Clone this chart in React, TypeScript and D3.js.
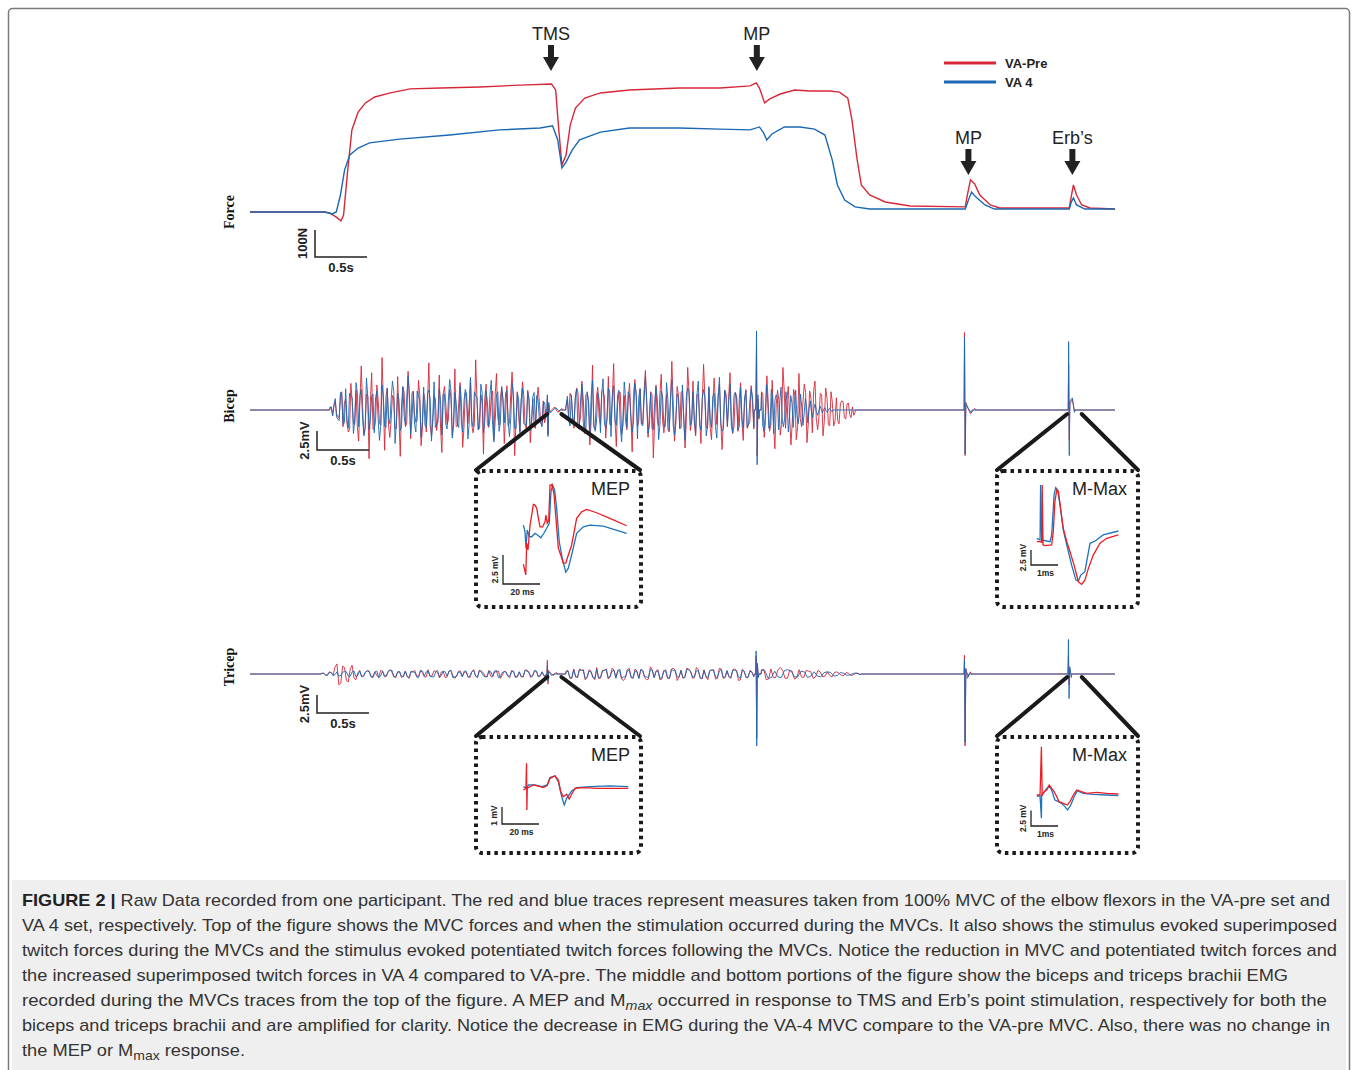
import React from "react";
import * as d3 from "d3";

const RED = "#d62839";
const BLUE = "#1a68b3";
const IRED = "#ee1c25";
const IBLUE = "#1c75bc";
const FONT = "'Liberation Sans', Arial, Helvetica, sans-serif";

// ---------- Force (time s, force N) ----------
const forceRed: [number, number][] = [
  [0, 0], [0.72, 0], [0.77, -4], [0.83, -19], [0.875, -33], [0.9, -11], [0.94, 156], [0.98, 304],
  [1.04, 370], [1.11, 404], [1.2, 426], [1.35, 441], [1.54, 456], [1.83, 459], [2.21, 463], [2.6, 470],
  [2.9, 474], [2.94, 452], [2.97, 304], [3.0, 174], [3.04, 211], [3.08, 322], [3.13, 385], [3.22, 422],
  [3.37, 441], [3.65, 452], [4.13, 459], [4.52, 459], [4.81, 467], [4.87, 478], [4.9, 459], [4.95, 404],
  [5.0, 419], [5.1, 437], [5.24, 452], [5.38, 448], [5.58, 448], [5.67, 444], [5.75, 422], [5.79, 341],
  [5.84, 193], [5.88, 100], [5.96, 63], [6.11, 37], [6.35, 22], [6.88, 19], [6.9, 63], [6.93, 119],
  [6.97, 104], [7.02, 63], [7.12, 26], [7.21, 15], [7.88, 15], [7.9, 59], [7.92, 100], [7.95, 63],
  [8.0, 26], [8.08, 15], [8.32, 11],
];
const forceBlue: [number, number][] = [
  [0, 0], [0.72, 0], [0.79, -7], [0.83, 0], [0.87, 63], [0.91, 156], [0.96, 211], [1.04, 237],
  [1.15, 256], [1.44, 270], [1.92, 285], [2.4, 304], [2.79, 311], [2.91, 319], [2.96, 267], [3.0, 163],
  [3.04, 185], [3.1, 230], [3.17, 267], [3.37, 296], [3.65, 311], [4.13, 311], [4.52, 307], [4.81, 304],
  [4.9, 315], [4.94, 293], [4.97, 267], [5.02, 289], [5.14, 315], [5.29, 315], [5.43, 307], [5.53, 285],
  [5.6, 193], [5.65, 100], [5.72, 44], [5.82, 19], [5.96, 11], [6.88, 11], [6.91, 44], [6.94, 74],
  [6.98, 56], [7.07, 26], [7.16, 11], [7.88, 11], [7.9, 37], [7.92, 52], [7.95, 26], [8.03, 11], [8.32, 11],
];

// ---------- Bicep EMG (mV), sampled across burst windows ----------
const bicepRedBurst1 = [0.3,-0.6,1.1,-0.9,1.8,-2.2,1.4,-2.9,3.5,-1.8,2.6,-4.1,5.8,-3.2,2.1,-6.4,4.9,-2.5,3.3,-1.7,6.9,-5.3,2.8,-3.6,1.9,-2.4,4.4,-6.1,3.0,-2.2,5.1,-3.8,2.5,-1.6,3.9,-4.7,2.2,-2.9,6.2,-3.4,1.8,-2.7,4.6,-5.6,3.1,-1.9,2.7,-3.3,5.4,-2.1,3.6,-4.9,2.3,-1.8,4.1,-3.0,6.6,-2.6,2.0,-5.8,3.4,-2.3,1.7,-3.9,4.8,-2.0,2.9,-4.4,3.2,-1.6,5.0,-6.0,2.4,-2.8,3.7,-1.9,2.6,-4.3,1.5,-2.4,3.0,-1.7,1.2,-0.8];
const bicepBlueBurst1 = [0.4,-0.8,1.5,-1.2,2.3,-1.9,2.8,-2.4,1.9,-3.1,3.6,-2.2,2.7,-3.4,4.2,-2.6,1.8,-3.0,2.5,-4.0,3.3,-2.1,2.9,-1.8,3.8,-4.4,2.2,-2.7,3.1,-2.0,4.5,-3.2,2.4,-2.9,1.9,-3.6,3.0,-2.3,2.6,-4.1,3.7,-1.9,2.8,-3.3,2.1,-2.5,4.0,-3.7,2.3,-1.8,3.2,-2.9,2.7,-3.8,4.3,-2.2,1.9,-2.6,3.4,-3.0,2.5,-2.1,3.9,-4.2,2.0,-2.8,3.1,-1.7,2.6,-3.5,3.5,-2.4,2.2,-3.0,2.9,-1.9,2.4,-2.7,1.8,-2.2,1.3,-1.6,0.9,-0.6];
const bicepRedBurst2 = [0.5,-1.0,1.8,-2.4,2.9,-1.7,3.8,-3.1,2.2,-4.6,5.9,-2.5,3.0,-1.9,2.6,-3.7,4.4,-2.0,6.1,-4.8,2.3,-3.2,1.9,-2.6,3.5,-5.5,4.0,-2.2,2.8,-1.8,5.2,-3.6,2.4,-6.3,3.3,-2.1,4.7,-3.0,2.0,-2.9,6.4,-4.1,3.1,-2.4,2.5,-5.0,5.6,-2.7,3.8,-3.4,2.1,-4.4,6.0,-2.3,2.9,-3.9,4.2,-1.9,3.4,-5.2,2.6,-2.2,4.9,-3.1,2.3,-2.8,3.6,-4.0,2.7,-1.9,3.2,-2.5];
const bicepBlueBurst2 = [0.6,-1.3,2.0,-1.8,2.7,-2.5,3.4,-2.2,2.4,-3.6,3.9,-2.8,2.3,-3.0,4.1,-2.4,2.9,-3.5,3.2,-2.0,2.6,-4.2,3.7,-2.3,2.0,-2.9,3.5,-3.8,2.8,-2.1,4.4,-3.1,2.2,-2.6,3.0,-3.9,2.5,-2.2,3.6,-2.7,4.0,-3.3,2.1,-2.5,3.3,-4.0,2.9,-2.0,2.4,-3.2,3.8,-2.6,2.7,-3.4,3.1,-2.3,2.2,-3.7,4.3,-2.8,2.6,-2.1,3.4,-3.0,2.3,-2.6,3.0,-2.4,2.5,-1.9,2.8,-2.2];
const bicepRedBurst3 = [2.4,-3.6,4.5,-2.8,3.9,-5.1,2.6,-3.3,5.6,-2.4,3.1,-4.6,2.7,-3.9,4.8,-2.2,3.4,-4.3,2.5,-3.0,3.8,-2.6,2.2,-3.4,2.9,-1.9,2.4,-2.1,1.6,-1.8,1.2,-1.0,0.8,-0.6,0.4,-0.3];
const bicepBlueBurst3 = [2.2,-2.8,3.3,-2.4,2.7,-3.1,2.0,-2.6,3.0,-2.2,2.4,-2.9,1.9,-2.3,2.6,-1.8,2.1,-2.0,1.5,-1.7,1.2,-1.0,0.8,-0.7,0.5,-0.4,0.3,-0.3,0.2,-0.2];
// in-between samples (dense core of the signal)
const bicepRedCore = [
  0.3,0.6,-0.5,-1.0,2.4,0.9,-1.7,-2.6,1.1,-1.9,-2.2,1.3,0.7,-2.3,1.8,1.0,-2.5,-1.5,1.3,-2.0,
  0.9,1.8,-2.1,-1.2,1.6,-2.4,-1.0,0.8,2.3,-1.7,1.4,2.2,-0.6,-1.4,1.9,-2.5,1.2,1.1,-2.0,-1.6,
  1.5,-0.9,-2.4,2.1,0.8,-1.3,1.7,-1.9,-2.2,1.0,1.1,-2.3,1.6,0.7,-2.0,-1.8,1.3,-2.4,0.9,1.5,
  -1.8,-1.2,2.5,2.0,-1.0,1.6,1.4,-0.8,-2.1,2.2,1.2,-1.7,-0.7,1.1,1.9,-2.5,1.5,-1.4,-2.3,0.9,
  1.1,-2.0,-1.7,1.3,2.2,-0.8,1.5,2.4,-0.9,-1.6,2.0,1.1,-1.3,-2.2,1.8,-0.9,2.4,1.7,-1.0,-1.9,
  1.6,-1.2,0.8,2.3,-2.1,-1.5,1.2,-0.7,1.9,2.1,-1.4,-1.8,2.5,1.0,-0.7,2.0,-1.6,-1.3,2.2,-1.4,
  -0.9,-2.5,1.3,1.1,-1.8,1.9,2.3,-0.8,-1.0,2.2,-1.5,-1.6,2.0,-1.2,1.1,1.7,-2.4,-2.3,0.8,1.0,
  2.0,-1.4,-1.2,2.1,1.7,-0.9,-2.2,1.8,1.4,-1.5,0.9,-2.4,-1.6,1.1,2.1,-1.3,1.0,-2.0,-1.8,0.7,
  1.3,-1.9,2.5,1.2,-0.8,-1.6,1.9,-2.2,-1.1,1.0,2.3,-1.7,1.5,2.5,-1.2,-0.9,2.0,-1.4,1.6,-2.1,
  1.0,-1.5,-1.4,0.8,1.1,-1.2,0.9,-1.0,-0.7,0.8,0.6,-0.5,
];
const bicepBlueCore = [
  0.4,0.7,-0.9,-1.4,2.0,-1.7,-1.3,2.2,1.6,-1.1,2.3,1.9,-1.0,-2.4,1.8,-1.3,2.1,1.6,-1.2,-2.0,
  1.7,-2.3,-1.1,1.5,2.4,-1.8,1.4,-2.1,-0.9,1.7,2.2,-1.2,-1.9,2.5,1.3,-1.4,-2.0,2.2,1.5,-1.0,
  -2.3,-1.6,1.2,2.0,-1.8,1.3,2.5,-1.9,1.0,-2.3,-1.6,1.1,2.1,-1.8,-1.4,2.4,1.7,-1.2,2.2,-1.5,
  1.1,2.1,-1.9,-1.4,2.4,-1.7,1.3,2.2,-1.6,-1.0,2.0,-2.5,1.5,1.3,-1.8,-2.0,1.2,-1.6,2.3,1.9,
  -1.4,-2.2,1.0,1.8,-2.1,-1.2,1.7,-2.4,1.3,1.5,-2.5,1.1,1.9,-2.0,-1.6,1.4,2.2,-1.7,-1.1,2.3,
  1.8,-1.3,2.0,-2.1,-1.2,1.6,2.4,-1.0,-1.5,2.2,1.7,-1.9,1.3,1.2,-2.1,-2.4,1.0,1.5,-1.9,1.8,
  -2.2,1.4,1.6,-2.0,-1.1,1.7,-2.3,-1.3,1.8,2.5,-1.4,-1.1,2.0,-1.9,1.5,1.6,-2.1,-1.2,1.7,-2.2,
  1.3,-1.8,-2.4,1.5,1.0,-2.0,1.9,1.4,-2.2,-1.1,1.6,-2.3,1.2,1.7,-2.0,-1.0,1.5,-2.1,1.8,1.3,
  1.6,1.2,-1.3,-1.0,1.1,-0.8,0.9,0.7,-0.6,-0.5,0.4,-0.4,0.3,0.3,-0.2,0.2,-0.2,-0.1,0.1,0.1,
  -0.1,0.1,-0.1,0.1,-0.1,0.1,
];
const bicepRedWindows: [number, number][] = [[0.77, 2.846], [3.04, 4.846], [4.92, 5.82]];
const bicepBlueWindows: [number, number][] = [[0.77, 2.846], [3.04, 4.846], [4.92, 5.6]];
// stimulus artefacts / responses, one group per stimulus
const bicepRedEvents: [number, number][][] = [
  [[2.86, 1.5], [2.866, -3.2], [2.872, 0.8], [2.88, -0.3], [2.93, 0.4], [2.96, -0.3], [3.0, 0.2]],
  [[4.866, 0.8], [4.872, 8.5], [4.878, -6.0], [4.886, 1.5], [4.895, -1.2]],
  [[6.872, 10.2], [6.878, -6.0], [6.885, 1.0], [6.9, 0.4], [6.93, -0.5], [6.97, 0.2]],
  [[7.874, 6.0], [7.88, -4.0], [7.886, 0.8], [7.91, 1.4], [7.93, -0.2]],
];
const bicepBlueEvents: [number, number][][] = [
  [[2.86, 2.0], [2.866, -3.5], [2.874, 1.0], [2.885, -0.4], [2.94, 0.3], [2.98, -0.2]],
  [[4.866, 1.0], [4.872, 10.4], [4.878, -7.2], [4.885, 2.0], [4.895, -1.0]],
  [[6.873, 9.6], [6.879, -5.8], [6.886, 0.8], [6.91, 0.2], [6.94, -0.4]],
  [[7.874, 9.0], [7.88, -6.0], [7.886, 1.2], [7.91, 1.6], [7.93, -0.3]],
];

// ---------- Tricep EMG (mV) ----------
const tricepRedPart1 = [0.1,-0.2,0.3,-0.2,1.4,-1.3,0.9,-1.1,1.2,-0.8,0.4,-0.3,0.5,-0.4,0.3,-0.5,0.4,-0.3,0.6,-0.4,0.3,-0.5,0.4,-0.6,0.3,-0.3,0.5,-0.4,0.6,-0.3,0.4,-0.5,0.3,-0.4,0.5,-0.6,0.4,-0.3,0.3,-0.5,0.6,-0.4,0.4,-0.3,0.5,-0.4,0.3,-0.6,0.4,-0.3,0.5,-0.4,0.3,-0.4,0.6,-0.5,0.4,-0.3,0.3,-0.2];
const tricepBluePart1 = [0.1,-0.1,0.2,-0.2,0.3,-0.2,0.4,-0.3,0.3,-0.4,0.5,-0.3,0.4,-0.4,0.3,-0.5,0.4,-0.3,0.5,-0.4,0.3,-0.3,0.4,-0.5,0.3,-0.4,0.5,-0.3,0.4,-0.4,0.3,-0.5,0.4,-0.3,0.5,-0.4,0.3,-0.4,0.4,-0.3,0.5,-0.5,0.3,-0.4,0.4,-0.3,0.5,-0.4,0.3,-0.3,0.4,-0.5,0.3,-0.4,0.4,-0.3,0.5,-0.4,0.3,-0.3];
const tricepRedPart2 = [0.4,-0.6,0.7,-0.5,0.5,-0.8,0.6,-0.4,0.9,-0.6,0.5,-0.7,0.8,-0.5,0.4,-0.9,0.6,-0.5,0.7,-0.6,0.5,-0.8,1.0,-0.5,0.6,-0.7,0.4,-0.6,0.8,-0.9,0.5,-0.4,0.7,-0.6,0.9,-0.5,0.6,-0.8,0.5,-0.7,0.8,-0.6,0.4,-0.5,0.7,-0.9,0.6,-0.5,0.5,-0.4];
const tricepBluePart2 = [0.3,-0.5,0.6,-0.4,0.5,-0.6,0.4,-0.5,0.6,-0.4,0.5,-0.5,0.4,-0.6,0.7,-0.4,0.5,-0.5,0.4,-0.6,0.5,-0.4,0.6,-0.5,0.4,-0.5,0.6,-0.6,0.5,-0.4,0.5,-0.5,0.6,-0.4,0.4,-0.6,0.5,-0.5,0.6,-0.4,0.4,-0.5,0.5,-0.6,0.5,-0.4,0.6,-0.5,0.4,-0.3];
const tricepRedPart3 = [0.6,-0.8,0.7,-0.5,0.9,-0.6,0.5,-0.7,0.6,-0.5,0.4,-0.6,0.5,-0.4,0.3,-0.4,0.3,-0.2,0.2,-0.2,0.1,-0.1];
const tricepBluePart3 = [0.5,-0.6,0.4,-0.5,0.6,-0.4,0.4,-0.5,0.3,-0.4,0.3,-0.3,0.2,-0.2,0.1,-0.1];
const tricepRedCore = [
  0.1,-0.1,0.2,1.0,-1.5,1.1,-0.9,0.7,-0.6,0.2,-0.3,0.2,0.4,-0.3,-0.2,0.5,-0.4,0.3,0.2,-0.5,
  0.3,-0.2,-0.4,0.3,0.5,-0.3,0.2,-0.4,-0.3,0.4,0.2,0.3,-0.5,0.4,-0.2,-0.3,0.4,0.2,-0.4,0.3,
  -0.3,0.5,0.2,-0.4,-0.3,0.3,0.4,-0.2,0.3,-0.5,0.2,-0.3,-0.4,0.5,0.3,-0.2,0.4,-0.3,-0.2,
  0.5,-0.6,-0.4,0.7,0.6,-0.5,0.4,-0.8,-0.6,0.5,0.7,-0.4,0.6,0.5,-0.7,-0.5,0.8,-0.6,0.4,0.6,
  -0.5,-0.7,0.6,0.4,-0.8,0.5,-0.6,0.7,0.5,-0.4,-0.6,0.8,0.4,-0.5,0.6,-0.7,-0.4,0.5,0.6,-0.6,
  0.7,-0.5,-0.4,0.6,0.5,-0.8,0.4,-0.5,0.3,
  0.6,-0.7,-0.5,0.6,0.5,-0.6,0.4,-0.5,-0.4,0.5,0.3,-0.4,0.3,-0.3,-0.2,0.2,0.1,-0.2,0.1,-0.1,0.1,
];
const tricepBlueCore = [
  0.1,-0.2,0.2,-0.1,-0.3,0.2,0.3,-0.3,0.4,-0.2,-0.4,0.3,0.3,-0.5,0.4,-0.3,-0.2,0.4,0.5,-0.3,
  0.3,-0.4,-0.3,0.4,0.2,-0.5,0.4,0.3,-0.3,-0.4,0.5,-0.2,0.3,0.4,-0.5,-0.3,0.2,0.4,-0.4,0.3,
  -0.3,0.5,-0.2,-0.4,0.3,0.4,-0.5,0.2,0.3,-0.3,0.4,-0.4,-0.3,0.5,0.2,-0.3,0.4,-0.2,-0.3,
  0.4,-0.5,-0.4,0.6,0.5,-0.4,0.3,-0.6,-0.5,0.4,0.6,-0.3,0.5,0.4,-0.6,-0.4,0.5,-0.5,0.3,0.6,
  -0.4,-0.5,0.5,0.4,-0.6,0.3,-0.5,0.6,0.4,-0.4,-0.5,0.6,0.3,-0.4,0.5,-0.6,-0.3,0.4,0.5,-0.5,
  0.6,-0.4,-0.3,0.5,0.4,-0.6,0.3,-0.4,0.2,
  0.5,-0.5,-0.4,0.5,0.4,-0.4,0.3,-0.3,-0.3,0.2,0.2,-0.2,0.1,-0.1,0.1,
];
const tricepWindows: [number, number][] = [[0.69, 2.846], [3.04, 4.846], [4.92, 5.87]];
const tricepRedEvents: [number, number][][] = [
  [[2.86, 1.9], [2.866, -1.4], [2.872, 0.5], [2.9, -0.2], [2.95, 0.2]],
  [[4.868, 2.5], [4.874, -9.0], [4.88, 1.2], [4.89, -0.4]],
  [[6.872, 2.6], [6.878, -10.0], [6.885, 0.8], [6.9, -0.6], [6.93, 0.3]],
  [[7.872, 2.5], [7.878, -1.5], [7.885, 0.6]],
];
const tricepBlueEvents: [number, number][][] = [
  [[2.86, 1.2], [2.866, -1.0], [2.873, 0.3], [2.92, -0.2]],
  [[4.868, 3.2], [4.874, -10.0], [4.88, 1.5], [4.89, -0.5]],
  [[6.872, 2.0], [6.878, -9.5], [6.886, 0.6], [6.91, -0.4]],
  [[7.872, 4.8], [7.878, -3.4], [7.885, 1.0], [7.9, -0.5]],
];

// ---------- Insets (ms, mV) ----------
const mepBicepRed: [number, number][] = [[0.2,-2.09],[1.5,-3.01],[2.0,-0.26],[2.7,-0.86],[3.8,1.29],[4.7,2.15],[5.6,3.07],[6.5,3.01],[7.4,2.75],[8.3,1.89],[9.2,1.14],[10.6,1.14],[11.9,1.57],[12.4,2.15],[13.1,1.46],[13.9,1.72],[14.6,4.73],[15.7,4.79],[16.8,3.87],[17.8,1.89],[19.1,-0.71],[20.4,-1.29],[21.8,-2.0],[23.1,-2.0],[24.5,-1.29],[26.3,-0.43],[29.0,1.87],[31.7,2.43],[34.4,2.64],[39.8,2.35],[47.0,1.87],[56.0,1.23]];
const mepBicepBlue: [number, number][] = [[0.2,1.29],[1.1,0.71],[1.6,-0.71],[2.3,0.86],[3.4,0.28],[4.7,0.28],[6.5,0.58],[7.9,0.43],[9.6,0.2],[11.3,0.58],[12.8,1.01],[14.2,1.44],[15.1,4.15],[16.0,4.73],[17.1,4.3],[18.2,2.73],[19.6,-0.15],[21.2,-1.57],[23.1,-2.78],[24.5,-2.43],[26.3,-1.29],[29.0,0.58],[32.6,1.14],[36.2,1.29],[43.4,1.2],[56.0,0.58]];
const mmaxBicepRed: [number, number][] = [[0.03,-0.28],[0.15,-0.28],[0.21,-0.38],[0.23,9.18],[0.26,-0.83],[0.33,-0.95],[0.58,-0.83],[0.64,1.39],[0.7,6.4],[0.77,8.35],[0.83,8.07],[0.91,5.29],[1.01,1.95],[1.14,-0.28],[1.26,-1.95],[1.41,-4.18],[1.57,-6.96],[1.69,-7.4],[1.81,-6.68],[1.94,-4.73],[2.12,-2.51],[2.37,-0.55],[2.62,0.28],[3.05,0.84]];
const mmaxBicepBlue: [number, number][] = [[0.03,0.28],[0.15,0],[0.17,9.18],[0.21,0],[0.52,-0.28],[0.58,0.84],[0.67,7.52],[0.73,8.73],[0.8,8.35],[0.89,5.85],[1.01,1.67],[1.14,-0.84],[1.32,-4.18],[1.48,-6.68],[1.57,-6.85],[1.66,-5.85],[1.81,-5.29],[2.0,-0.55],[2.19,-0.17],[2.49,0.84],[3.05,1.5]];
const mepTricepRed: [number, number][] = [[0.2,-0.12],[1.6,-0.02],[1.9,1.45],[2.1,-1.29],[2.3,0.02],[2.9,0.02],[5.6,0.18],[9.2,0.08],[11.0,0.02],[13.1,0.14],[14.6,0.57],[17.3,0.71],[19.1,0.47],[20.4,-0.22],[21.8,-0.51],[23.6,-0.37],[25.0,-0.65],[26.3,-0.37],[28.1,-0.02],[32.6,0.02],[39.8,-0.02],[56.9,-0.02]];
const mepTricepBlue: [number, number][] = [[0.2,0.08],[2.0,-0.02],[2.9,0.18],[6.5,0.18],[10.1,0.08],[13.1,0.18],[14.6,0.61],[17.3,0.71],[19.1,0.37],[20.9,-0.51],[22.3,-1.0],[23.6,-0.61],[26.3,-0.18],[29.0,0.02],[36.2,0.08],[47.0,0.12],[56.9,0.08]];
const mmaxTricepRed: [number, number][] = [[0.03,0],[0.15,0],[0.2,7.73],[0.23,0],[0.31,0.53],[0.4,0.8],[0.49,1.6],[0.58,1.07],[0.67,0.53],[0.77,-0.27],[0.85,-1.07],[1.01,-1.33],[1.16,-1.6],[1.26,-1.07],[1.38,0],[1.51,0.8],[1.69,0.53],[1.88,0.27],[2.25,0.43],[2.62,0.27],[3.05,0.16]];
const mmaxTricepBlue: [number, number][] = [[0.03,-0.16],[0.15,-0.16],[0.2,-3.73],[0.21,0],[0.31,0.53],[0.4,1.07],[0.49,1.44],[0.58,0.8],[0.7,-0.8],[0.83,-1.07],[0.95,-1.33],[1.07,-1.87],[1.17,-2.4],[1.29,-1.6],[1.41,-0.27],[1.53,0.64],[1.75,0.27],[2.12,0.11],[2.62,0],[3.05,-0.11]];

// ---------- Text ----------
const legendLabels = ["VA-Pre", "VA 4"];
const captionLines = [
  "Raw Data recorded from one participant. The red and blue traces represent measures taken from 100% MVC of the elbow flexors in the VA-pre set and",
  "VA 4 set, respectively. Top of the figure shows the MVC forces and when the stimulation occurred during the MVCs. It also shows the stimulus evoked superimposed",
  "twitch forces during the MVCs and the stimulus evoked potentiated twitch forces following the MVCs. Notice the reduction in MVC and potentiated twitch forces and",
  "the increased superimposed twitch forces in VA 4 compared to VA-pre. The middle and bottom portions of the figure show the biceps and triceps brachii EMG",
  "recorded during the MVCs traces from the top of the figure. A MEP and M",
  "biceps and triceps brachii and are amplified for clarity. Notice the decrease in EMG during the VA-4 MVC compare to the VA-pre MVC. Also, there was no change in",
  "the MEP or M",
];
const caption5Tail = " occurred in response to TMS and Erb\u2019s point stimulation, respectively for both the";
const captionWidths = [1308, 1315, 1315, 1266, 1305, 1308, 223];

// ---------- helpers ----------
const T_END = 8.32;
const x = d3.scaleLinear().domain([0, T_END]).range([250, 1115]);
const yForce = d3.scaleLinear().domain([0, 100]).range([212, 185]);
const yBicep = d3.scaleLinear().domain([0, 2.5]).range([410, 391]);
const yTricep = d3.scaleLinear().domain([0, 2.5]).range([674, 656]);

function buildTrace(
  bursts: number[][],
  windows: [number, number][],
  events: [number, number][][],
  core?: number[]
) {
  const pts: [number, number][] = [[0, 0], [T_END, 0]];
  let ci = 0;
  bursts.forEach((vals, i) => {
    const [a, b] = windows[i];
    const dt = (b - a) / (vals.length - 1);
    pts.push([a - 0.004, 0]);
    vals.forEach((v, k) => {
      pts.push([a + k * dt, v]);
      if (core && k < vals.length - 1 && ci < core.length) pts.push([a + (k + 0.5) * dt, core[ci++]]);
    });
    pts.push([b + 0.004, 0]);
  });
  events.forEach((g) => {
    pts.push([g[0][0] - 0.004, 0]);
    g.forEach((e) => pts.push(e));
    pts.push([g[g.length - 1][0] + 0.004, 0]);
  });
  pts.sort((p, q) => p[0] - q[0]);
  return pts;
}

function linePath(data: [number, number][], xs: d3.ScaleLinear<number, number>, ys: d3.ScaleLinear<number, number>) {
  return d3.line<[number, number]>().x((d) => xs(d[0])).y((d) => ys(d[1]))(data) || "";
}

function Arrow({ cx, y0, y1, label }: { cx: number; y0: number; y1: number; label: string }) {
  const head = 14;
  return (
    <g>
      <text x={cx} y={y0 - 5} textAnchor="middle" fontFamily={FONT} fontSize={18} fill="#222">{label}</text>
      <rect x={cx - 3} y={y0} width={6} height={y1 - y0 - head + 1} fill="#222" />
      <path d={`M${cx - 8},${y1 - head} L${cx + 8},${y1 - head} L${cx},${y1} Z`} fill="#222" />
    </g>
  );
}

function Inset({ box, title, red, blue, xs, ys, bar, barLabels }: any) {
  const [bx, by, bw, bh] = box;
  return (
    <g>
      <rect x={bx} y={by} width={bw} height={bh} rx={6} fill="white" stroke="#1a1a1a" strokeWidth={4} strokeDasharray="3.5 4" />
      <text x={bx + bw - 11} y={by + 24} textAnchor="end" fontFamily={FONT} fontSize={18} fill="#222">{title}</text>
      <path d={linePath(blue, xs, ys)} fill="none" stroke={IBLUE} strokeWidth={1.3} />
      <path d={linePath(red, xs, ys)} fill="none" stroke={IRED} strokeWidth={1.3} />
      <path d={`M${bar.x},${bar.y0} L${bar.x},${bar.y1} L${bar.x2},${bar.y1}`} fill="none" stroke="#222" strokeWidth={1.3} />
      <text transform={`translate(${bar.x - 5},${(bar.y0 + bar.y1) / 2}) rotate(-90)`} textAnchor="middle" fontFamily={FONT} fontSize={8.5} fontWeight="bold" fill="#222">{barLabels[0]}</text>
      <text x={(bar.x + bar.x2) / 2 + 1} y={bar.y1 + 11} textAnchor="middle" fontFamily={FONT} fontSize={8.5} fontWeight="bold" fill="#222">{barLabels[1]}</text>
    </g>
  );
}

function ScaleBar({ x0, yBase, vLen, hLen, vLabel, hLabel }: any) {
  return (
    <g>
      <path d={`M${x0},${yBase - vLen} L${x0},${yBase} L${x0 + hLen},${yBase}`} fill="none" stroke="#222" strokeWidth={1.5} />
      <text transform={`translate(${x0 - 8},${yBase - vLen / 2}) rotate(-90)`} textAnchor="middle" fontFamily={FONT} fontSize={13} fontWeight="bold" fill="#222">{vLabel}</text>
      <text x={x0 + hLen / 2} y={yBase + 15} textAnchor="middle" fontFamily={FONT} fontSize={13} fontWeight="bold" fill="#222">{hLabel}</text>
    </g>
  );
}

export default function App() {
  const bicepRed = buildTrace([bicepRedBurst1, bicepRedBurst2, bicepRedBurst3], bicepRedWindows, bicepRedEvents, bicepRedCore);
  const bicepBlue = buildTrace([bicepBlueBurst1, bicepBlueBurst2, bicepBlueBurst3], bicepBlueWindows, bicepBlueEvents, bicepBlueCore);
  const tricepRed = buildTrace([tricepRedPart1, tricepRedPart2, tricepRedPart3], tricepWindows, tricepRedEvents, tricepRedCore);
  const tricepBlue = buildTrace([tricepBluePart1, tricepBluePart2, tricepBluePart3], tricepWindows, tricepBlueEvents, tricepBlueCore);

  const mepX = d3.scaleLinear().domain([0, 20]).range([523, 560]);
  const mepBY = d3.scaleLinear().domain([0, 2.5]).range([540, 511]);
  const mmaxX = d3.scaleLinear().domain([0, 1]).range([1036, 1063]);
  const mmaxBY = d3.scaleLinear().domain([0, 2.5]).range([540, 525]);
  const mepTY = d3.scaleLinear().domain([0, 1]).range([788, 771]);
  const mmaxTY = d3.scaleLinear().domain([0, 2.5]).range([795, 779.4]);

  const zoomLine = (t: number, y0: number, x1: number, y1: number) => (
    <line x1={x(t)} y1={y0} x2={x1} y2={y1} stroke="#1a1a1a" strokeWidth={4} strokeLinecap="round" />
  );

  const serifLabel = (label: string, cy: number) => (
    <text transform={`translate(234,${cy}) rotate(-90)`} textAnchor="middle" fontFamily="'Liberation Serif', 'Times New Roman', serif" fontSize={14} fontWeight="bold" fill="#111">{label}</text>
  );

  return (
    <svg width={1358} height={1070} style={{ position: "absolute", left: 0, top: 0, display: "block", background: "white" }}>
      <rect x={8.5} y={8.5} width={1341} height={1100} rx={4} fill="white" stroke="#7a7a7a" strokeWidth={1.5} />
      {/* Force */}
      {serifLabel("Force", 212)}
      <path d={linePath(forceRed, x, yForce)} fill="none" stroke={RED} strokeWidth={1.4} />
      <path d={linePath(forceBlue, x, yForce)} fill="none" stroke={BLUE} strokeWidth={1.4} />
      <ScaleBar x0={315} yBase={257} vLen={yForce(0) - yForce(100)} hLen={x(0.5) - x(0)} vLabel="100N" hLabel="0.5s" />
      <Arrow cx={x(2.895)} y0={45} y1={71} label="TMS" />
      <Arrow cx={x(4.875)} y0={45} y1={71} label="MP" />
      <Arrow cx={x(6.91)} y0={149} y1={175} label="MP" />
      <Arrow cx={x(7.91)} y0={149} y1={175} label={"Erb\u2019s"} />
      {/* Legend */}
      <line x1={944} x2={996} y1={63} y2={63} stroke={RED} strokeWidth={3} />
      <line x1={944} x2={996} y1={82} y2={82} stroke={BLUE} strokeWidth={3} />
      <text x={1005} y={67.5} fontFamily={FONT} fontSize={13} fontWeight="bold" fill="#222">{legendLabels[0]}</text>
      <text x={1005} y={86.5} fontFamily={FONT} fontSize={13} fontWeight="bold" fill="#222">{legendLabels[1]}</text>

      {/* Bicep */}
      {serifLabel("Bicep", 406)}
      <path d={linePath(bicepRed, x, yBicep)} fill="none" stroke={RED} strokeWidth={0.9} />
      <path d={linePath(bicepBlue, x, yBicep)} fill="none" stroke={BLUE} strokeWidth={0.9} />
      <ScaleBar x0={317} yBase={450} vLen={yBicep(0) - yBicep(2.5)} hLen={x(0.5) - x(0)} vLabel="2.5mV" hLabel="0.5s" />
      {zoomLine(2.86, 414, 476, 470)}
      {zoomLine(2.995, 414, 640, 470)}
      {zoomLine(7.86, 414, 997, 470)}
      {zoomLine(8.0, 414, 1138, 470)}
      <Inset box={[476, 471, 165, 136]} title="MEP" red={mepBicepRed} blue={mepBicepBlue} xs={mepX} ys={mepBY}
        bar={{ x: 503, y0: 584 - (mepBY(0) - mepBY(2.5)), y1: 584, x2: 503 + mepX(20) - mepX(0) }} barLabels={["2.5 mV", "20 ms"]} />
      <Inset box={[997, 471, 141, 136]} title="M-Max" red={mmaxBicepRed} blue={mmaxBicepBlue} xs={mmaxX} ys={mmaxBY}
        bar={{ x: 1031, y0: 565 - (mmaxBY(0) - mmaxBY(2.5)), y1: 565, x2: 1031 + mmaxX(1) - mmaxX(0) }} barLabels={["2.5 mV", "1ms"]} />

      {/* Tricep */}
      {serifLabel("Tricep", 667)}
      <path d={linePath(tricepRed, x, yTricep)} fill="none" stroke={RED} strokeWidth={0.9} />
      <path d={linePath(tricepBlue, x, yTricep)} fill="none" stroke={BLUE} strokeWidth={0.9} />
      <ScaleBar x0={317} yBase={713} vLen={yTricep(0) - yTricep(2.5)} hLen={x(0.5) - x(0)} vLabel="2.5mV" hLabel="0.5s" />
      {zoomLine(2.86, 677, 476, 736)}
      {zoomLine(2.995, 677, 640, 736)}
      {zoomLine(7.86, 677, 997, 736)}
      {zoomLine(8.0, 677, 1138, 736)}
      <Inset box={[476, 737, 165, 116]} title="MEP" red={mepTricepRed} blue={mepTricepBlue} xs={mepX} ys={mepTY}
        bar={{ x: 502, y0: 824 - (mepTY(0) - mepTY(1)), y1: 824, x2: 502 + mepX(20) - mepX(0) }} barLabels={["1 mV", "20 ms"]} />
      <Inset box={[997, 737, 141, 116]} title="M-Max" red={mmaxTricepRed} blue={mmaxTricepBlue} xs={mmaxX} ys={mmaxTY}
        bar={{ x: 1031, y0: 826 - (mmaxTY(0) - mmaxTY(2.5)), y1: 826, x2: 1031 + mmaxX(1) - mmaxX(0) }} barLabels={["2.5 mV", "1ms"]} />

      {/* Caption */}
      <rect x={12} y={880} width={1334} height={200} fill="#efefef" />
      <g fontFamily={FONT} fontSize={17} fill="#333">
        <text x={22} y={906} textLength={captionWidths[0]} lengthAdjust="spacingAndGlyphs">
          <tspan fontWeight="bold" fill="#222">FIGURE 2 |</tspan>{" " + captionLines[0]}
        </text>
        {[1, 2, 3, 5].map((i) => (
          <text key={i} x={22} y={906 + 25 * i} textLength={captionWidths[i]} lengthAdjust="spacingAndGlyphs">{captionLines[i]}</text>
        ))}
        <text x={22} y={1006} textLength={captionWidths[4]} lengthAdjust="spacingAndGlyphs">
          {captionLines[4]}
          <tspan dy={4} fontSize={13} fontStyle="italic">max</tspan>
          <tspan dy={-4}>{caption5Tail}</tspan>
        </text>
        <text x={22} y={1056} textLength={captionWidths[6]} lengthAdjust="spacingAndGlyphs">
          {captionLines[6]}
          <tspan dy={4} fontSize={13}>max</tspan>
          <tspan dy={-4}>{" response."}</tspan>
        </text>
      </g>
    </svg>
  );
}
